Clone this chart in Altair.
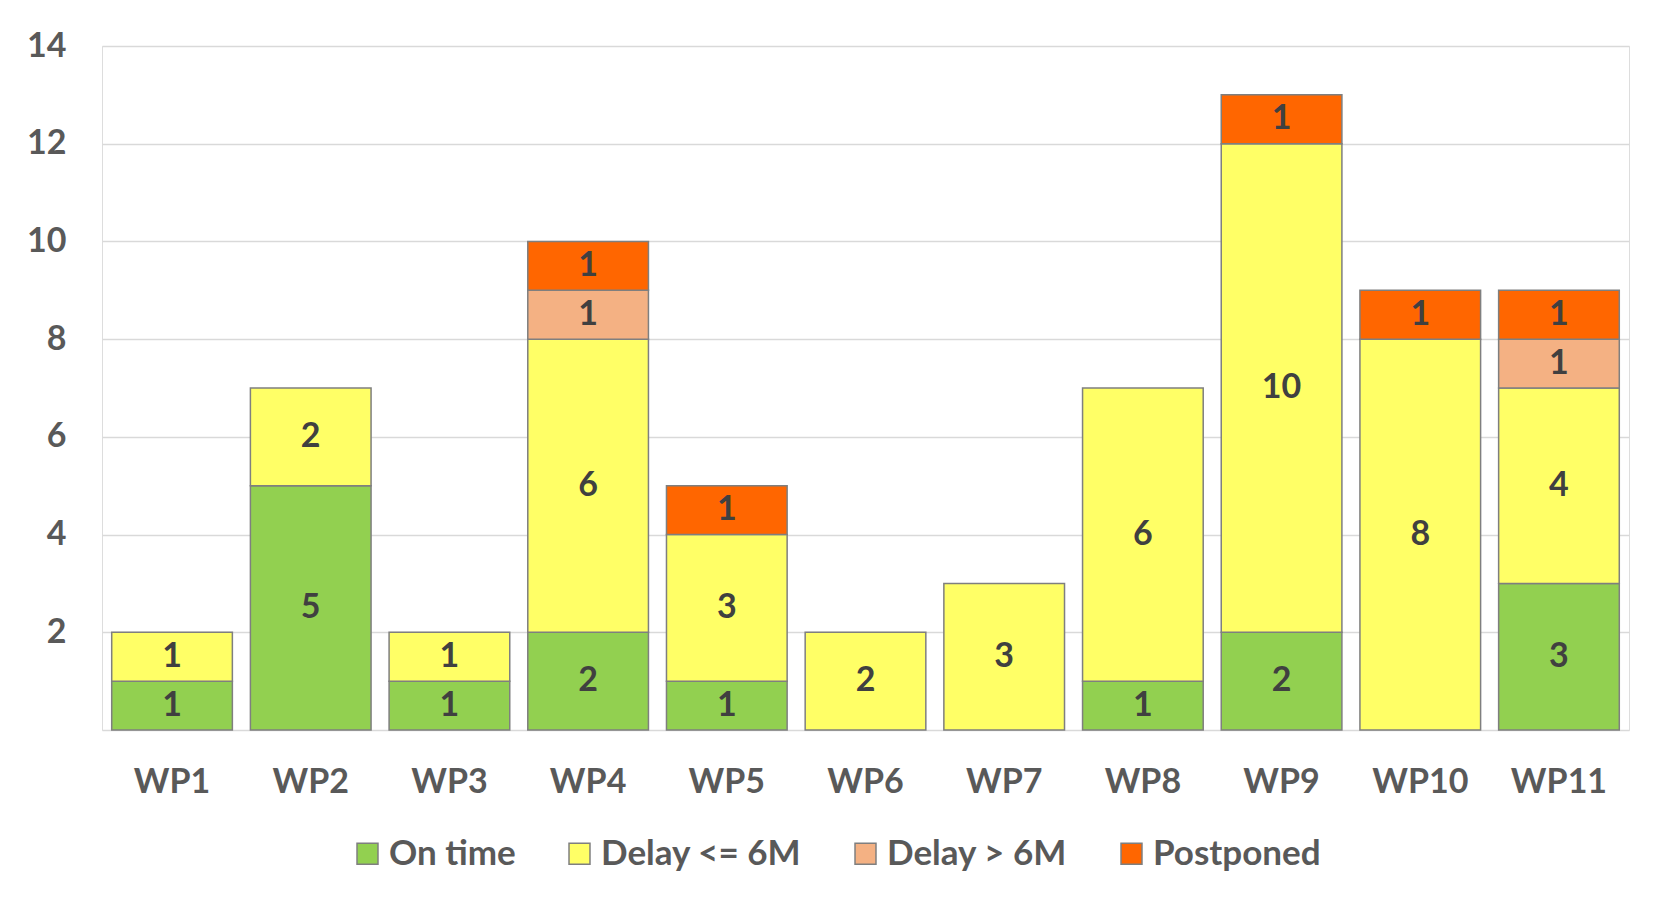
import altair as alt
import pandas as pd

wps = ["WP1", "WP2", "WP3", "WP4", "WP5", "WP6", "WP7", "WP8", "WP9", "WP10", "WP11"]
statuses = ["On time", "Delay <= 6M", "Delay > 6M", "Postponed"]
on_time = [1, 5, 1, 2, 1, 0, 0, 1, 2, 0, 3]
delay_le6 = [1, 2, 1, 6, 3, 2, 3, 6, 10, 8, 4]
delay_gt6 = [0, 0, 0, 1, 0, 0, 0, 0, 0, 0, 1]
postponed = [0, 0, 0, 1, 1, 0, 0, 0, 1, 1, 1]
colors = ["#92D050", "#FFFF66", "#F4B183", "#FF6600"]

rows = []
for k, (s, vals) in enumerate(zip(statuses, [on_time, delay_le6, delay_gt6, postponed])):
    for wp, v in zip(wps, vals):
        rows.append({"wp": wp, "status": s, "order": k, "value": v})
df = pd.DataFrame(rows)

FONT = "Lato"

base = (
    alt.Chart(df)
    .transform_filter("datum.value > 0")
    .transform_stack(stack="value", groupby=["wp"], sort=[alt.SortField("order")], as_=["y0", "y1"])
    .transform_calculate(mid="(datum.y0 + datum.y1) / 2")
)

xenc = alt.X(
    "wp:N",
    sort=wps,
    scale=alt.Scale(paddingInner=0.13, paddingOuter=0.07),
    axis=alt.Axis(
        title=None, labelAngle=0, domain=False, ticks=False,
        labelFont=FONT, labelFontSize=34, labelFontWeight="bold",
        labelColor="#595959", labelPadding=35,
    ),
)

bars = base.mark_bar(stroke="#7f7f7f", strokeWidth=1.5).encode(
    x=xenc,
    y=alt.Y(
        "y0:Q",
        scale=alt.Scale(domain=[0, 14]),
        axis=alt.Axis(
            title=None, values=[0, 2, 4, 6, 8, 10, 12, 14], domain=False, ticks=False,
            labelExpr="datum.value == 0 ? '' : datum.label",
            labelFont=FONT, labelFontSize=34, labelFontWeight="bold",
            labelColor="#595959", labelPadding=36,
            gridColor="#d9d9d9", gridWidth=1.5,
        ),
    ),
    y2="y1:Q",
    color=alt.Color(
        "status:N",
        sort=statuses,
        scale=alt.Scale(domain=statuses, range=colors),
        legend=alt.Legend(
            title=None, orient="none", direction="horizontal",
            legendX=248, legendY=790,
            symbolType="square", symbolSize=440, symbolStrokeColor="#7f7f7f",
            symbolStrokeWidth=1.5, symbolOpacity=1,
            labelFont=FONT, labelFontSize=35, labelFontWeight="bold",
            labelColor="#595959", columnPadding=46, labelLimit=400,
        ),
    ),
    order=alt.Order("order:Q"),
)

text = base.mark_text(font=FONT, fontSize=34, fontWeight="bold", color="#404040").encode(
    x=alt.X("wp:N", sort=wps),
    y=alt.Y("mid:Q"),
    text=alt.Text("value:Q"),
)

chart = (
    alt.layer(bars, text)
    .properties(width=1527, height=684, padding={"left": 18, "top": 21, "right": 20, "bottom": 10})
    .configure_view(stroke=None)
    .configure(background="white")
)

chart.save("out.html", embed_options={"renderer": "svg", "actions": False})
